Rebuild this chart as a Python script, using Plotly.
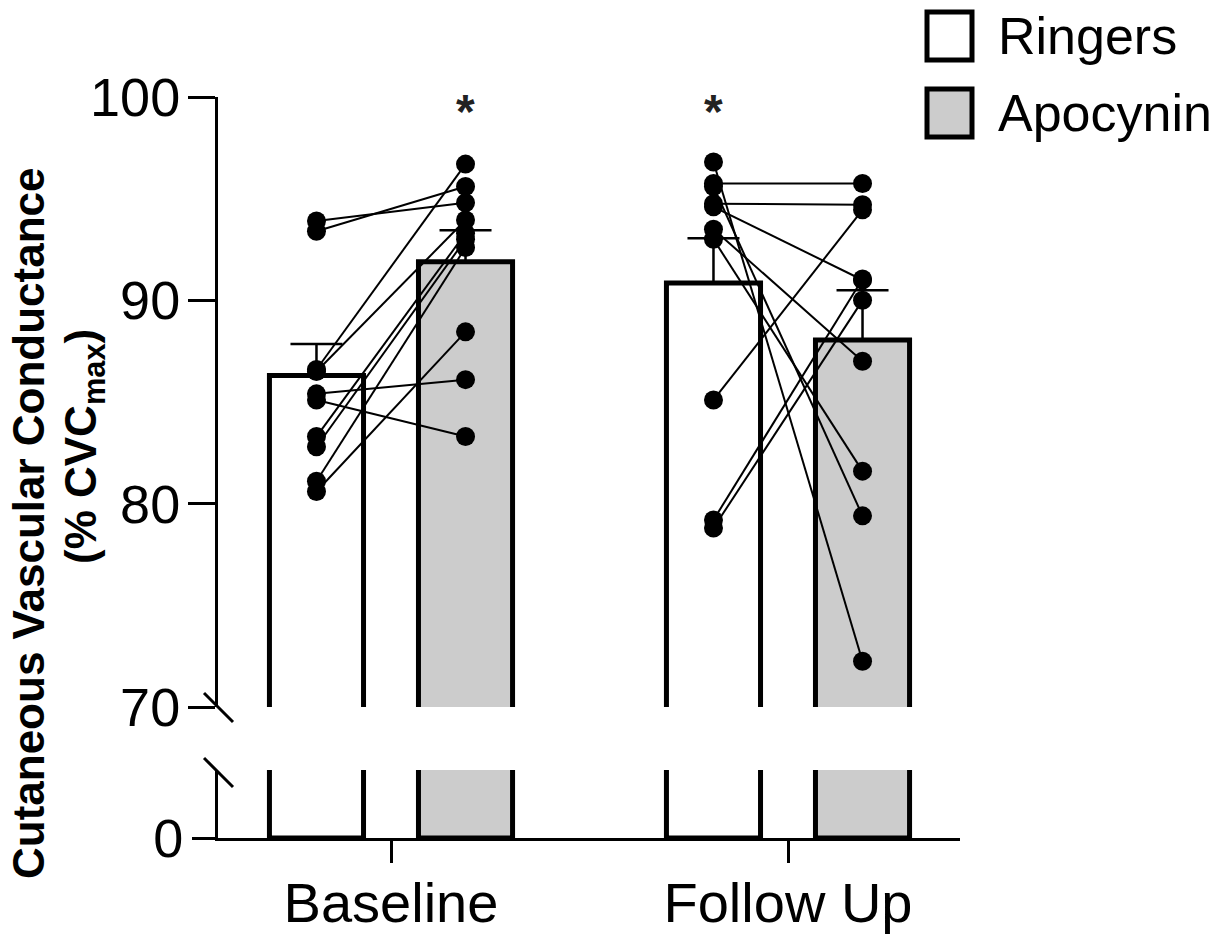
import plotly.graph_objects as go

W, H = 1227, 934

# ---------------- data ----------------
groups = ["Baseline", "Follow Up"]
treatments = ["Ringers", "Apocynin"]

bar_means = {"Ringers": [86.3, 90.85], "Apocynin": [91.9, 88.05]}
bar_sem = {"Ringers": [1.55, 2.2], "Apocynin": [1.55, 2.45]}

baseline_ringers = [93.9, 93.4, 86.6, 86.5, 85.4, 85.1, 83.3, 82.8, 81.1, 80.6]
baseline_apocynin = [94.8, 95.6, 96.7, 93.95, 86.1, 83.3, 93.3, 93.0, 92.6, 88.45]

followup_ringers = [96.8, 95.75, 94.75, 94.6, 93.5, 93.0, 95.6, 85.1, 79.2, 78.8]
followup_apocynin = [72.25, 95.75, 94.7, 91.0, 87.0, 81.6, 79.4, 94.45, 91.05, 90.0]

significance = {"Baseline": "Apocynin", "Follow Up": "Ringers"}

tick_upper = [70, 80, 90, 100]
tick_lower = [0]

# ---------------- helpers ----------------
def px(x):
    return x / W

def py(y):
    return 1 - y / H

offset = {"Ringers": -0.1877, "Apocynin": 0.1877}
bar_w = 0.237
fills = {"Ringers": "white", "Apocynin": "#cccccc"}
FONT = "Liberation Sans, Arial, sans-serif"

fig = go.Figure()

# bars: upper (broken-axis top segment) and lower segment
for t in treatments:
    xs = [i + offset[t] for i in range(len(groups))]
    fig.add_trace(go.Bar(
        x=xs, y=bar_means[t], width=bar_w, xaxis="x", yaxis="y2",
        marker=dict(color=fills[t], line=dict(color="black", width=5)),
        error_y=dict(type="data", symmetric=False, array=bar_sem[t],
                     arrayminus=[0] * len(groups), color="black",
                     thickness=2.5, width=26),
        showlegend=False, hoverinfo="skip"))
    fig.add_trace(go.Bar(
        x=xs, y=bar_means[t], width=bar_w, xaxis="x", yaxis="y",
        marker=dict(color=fills[t], line=dict(color="black", width=5)),
        showlegend=False, hoverinfo="skip"))

# paired individual data
pairs = [(0, baseline_ringers, baseline_apocynin), (1, followup_ringers, followup_apocynin)]
for gi, rv, av in pairs:
    xs, ys = [], []
    for r, a in zip(rv, av):
        xs += [gi + offset["Ringers"], gi + offset["Apocynin"], None]
        ys += [r, a, None]
    fig.add_trace(go.Scatter(
        x=xs, y=ys, xaxis="x", yaxis="y2", mode="lines+markers",
        line=dict(color="black", width=2),
        marker=dict(color="black", size=19),
        showlegend=False, hoverinfo="skip", cliponaxis=False))

annotations = []
# significance asterisks
for gi, g in enumerate(groups):
    t = significance[g]
    annotations.append(dict(
        x=gi + offset[t], y=99.3, xref="x", yref="y2", text="<b>*</b>",
        showarrow=False, font=dict(family=FONT, size=48, color="#222"),
        xanchor="center", yanchor="middle"))

# y-axis title (two lines)
annotations.append(dict(
    x=px(28), y=py(523), xref="paper", yref="paper",
    text="<b>Cutaneous Vascular Conductance</b>", textangle=-90,
    showarrow=False, font=dict(family=FONT, size=44, color="black"),
    xanchor="center", yanchor="middle"))
annotations.append(dict(
    x=px(84), y=py(447), xref="paper", yref="paper",
    text="<b>(% CVC<sub>max</sub>)</b>", textangle=-90,
    showarrow=False, font=dict(family=FONT, size=44, color="black"),
    xanchor="center", yanchor="middle"))

# legend (custom, large swatches)
legend_rows = [("Ringers", "white", 36), ("Apocynin", "#cccccc", 113)]
shapes = []
for name, col, yc in legend_rows:
    shapes.append(dict(type="rect", xref="paper", yref="paper",
                       x0=px(927), x1=px(972), y0=py(yc - 24), y1=py(yc + 24),
                       fillcolor=col, line=dict(color="black", width=5)))
    annotations.append(dict(
        x=px(996), y=py(yc), xref="paper", yref="paper", text=name,
        showarrow=False, font=dict(family=FONT, size=52, color="black"),
        xanchor="left", yanchor="middle"))

# axis break marks
for y0 in (693, 758):
    shapes.append(dict(type="line", xref="paper", yref="paper",
                       x0=px(204), y0=py(y0), x1=px(233), y1=py(y0 + 29),
                       line=dict(color="black", width=3)))

xmin = (218 - 391) / 397
xmax = (960 - 391) / 397

fig.update_layout(
    width=W, height=H,
    margin=dict(l=0, r=0, t=0, b=0),
    paper_bgcolor="white", plot_bgcolor="rgba(0,0,0,0)",
    barmode="overlay",
    showlegend=False,
    font=dict(family=FONT, color="black"),
    xaxis=dict(domain=[px(218), px(960)], range=[xmin, xmax],
               anchor="y", showline=True, linecolor="black", linewidth=3,
               tickvals=[0, 1], ticktext=groups, ticks="outside", ticklen=22,
               tickwidth=3, tickcolor="black", showgrid=False, zeroline=False,
               tickfont=dict(family=FONT, size=56, color="black"),
               ticklabelstandoff=-8, automargin=False),
    yaxis=dict(domain=[py(838), py(770)], range=[0, 3.3], anchor="x",
               showline=True, linecolor="black", linewidth=3,
               tickvals=tick_lower, ticks="outside", ticklen=23, tickwidth=3,
               tickcolor="black", showgrid=False, zeroline=False,
               tickfont=dict(family=FONT, size=54, color="black"),
               ticklabelstandoff=-2, automargin=False),
    yaxis2=dict(domain=[py(707), py(97)], range=[70, 100], anchor="x",
                showline=True, linecolor="black", linewidth=3,
                tickvals=tick_upper, ticks="outside", ticklen=27, tickwidth=3,
                tickcolor="black", showgrid=False, zeroline=False,
                tickfont=dict(family=FONT, size=54, color="black"),
                ticklabelstandoff=-3, automargin=False),
    annotations=annotations,
    shapes=shapes,
)

fig.write_html("out.html", config={"displayModeBar": False},
               post_script="document.body.style.margin='0px';document.body.style.overflow='hidden';")
